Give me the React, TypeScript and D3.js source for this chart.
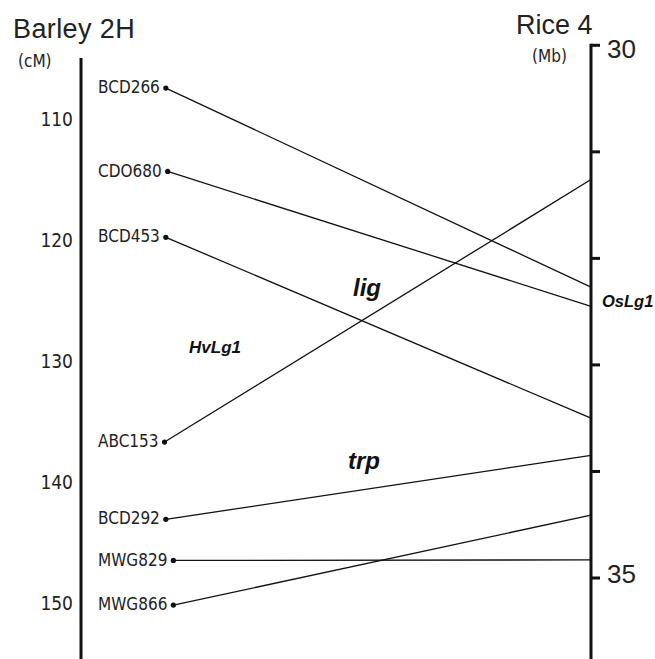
import React, { useEffect, useRef } from "react";
import * as d3 from "d3";

const markers = ["BCD266", "CDO680", "BCD453", "ABC153", "BCD292", "MWG829", "MWG866"];
const barleyCM = [107.4, 114.3, 119.75, 136.7, 143.1, 146.5, 150.2];
const riceMb = [32.27, 32.45, 33.5, 31.26, 33.85, 34.83, 34.41];
const leftTicks = [110, 120, 130, 140, 150];
const rightTicks = [30, 31, 32, 33, 34, 35];
const rightTickLabels = [30, 35];
const leftTitle = "Barley 2H";
const rightTitle = "Rice 4";
const leftUnit = "(cM)";
const rightUnit = "(Mb)";
const geneLabels = [
  { text: "lig", x: 367, y: 296, size: 24 },
  { text: "trp", x: 364, y: 469, size: 24 },
  { text: "HvLg1", x: 215, y: 353, size: 17 },
];
const riceGene = { text: "OsLg1", mb: 32.4 };

const W = 655;
const H = 659;
const LABEL_FONT = "'DejaVu Sans Condensed', 'DejaVu Sans', sans-serif";
const HELV = "'Liberation Sans', Arial, sans-serif";

export default function App() {
  const ref = useRef<SVGSVGElement | null>(null);

  useEffect(() => {
    const svg = d3.select(ref.current);
    svg.selectAll("*").remove();

    const leftX = 81;
    const rightX = 591;
    const yL = d3.scaleLinear().domain([110, 150]).range([119.5, 602.7]);
    const yR = d3.scaleLinear().domain([30, 35]).range([45.3, 578]);

    // titles
    svg.append("text").attr("x", 13).attr("y", 38).attr("font-family", HELV).attr("font-size", 27).attr("letter-spacing", 0.4).attr("fill", "#222").text(leftTitle);
    svg.append("text").attr("x", 516).attr("y", 34).attr("font-family", HELV).attr("font-size", 27).attr("fill", "#222").text(rightTitle);
    svg.append("text").attr("x", 18).attr("y", 67).attr("font-family", LABEL_FONT).attr("font-stretch", "condensed").attr("font-size", 17).attr("fill", "#222").text(leftUnit);
    svg.append("text").attr("x", 532).attr("y", 62).attr("font-family", LABEL_FONT).attr("font-stretch", "condensed").attr("font-size", 17).attr("fill", "#222").text(rightUnit);

    // left axis
    svg.append("line").attr("x1", leftX).attr("x2", leftX).attr("y1", 58).attr("y2", H).attr("stroke", "#111").attr("stroke-width", 3);
    svg.selectAll("text.lt").data(leftTicks).enter().append("text")
      .attr("class", "lt")
      .attr("x", 73).attr("y", (d) => yL(d)).attr("dy", "0.36em")
      .attr("text-anchor", "end")
      .attr("font-family", LABEL_FONT).attr("font-stretch", "condensed")
      .attr("font-size", 19).attr("fill", "#222")
      .text((d) => String(d));

    // right axis
    svg.append("line").attr("x1", rightX).attr("x2", rightX).attr("y1", yR(30) - 1.5).attr("y2", H).attr("stroke", "#111").attr("stroke-width", 3);
    svg.selectAll("line.rt").data(rightTicks).enter().append("line")
      .attr("class", "rt")
      .attr("x1", rightX).attr("x2", rightX + 9)
      .attr("y1", (d) => yR(d)).attr("y2", (d) => yR(d))
      .attr("stroke", "#111").attr("stroke-width", 3);
    svg.selectAll("text.rtl").data(rightTickLabels).enter().append("text")
      .attr("class", "rtl")
      .attr("x", 607).attr("y", (d) => yR(d)).attr("dy", (d) => (d === 30 ? "0.5em" : "0.2em"))
      .attr("font-family", HELV).attr("font-size", 26).attr("fill", "#222")
      .text((d) => String(d));

    // marker labels
    const labelX = 98;
    const labels = svg.selectAll("text.mk").data(markers).enter().append("text")
      .attr("class", "mk")
      .attr("x", labelX).attr("y", (_d, i) => yL(barleyCM[i])).attr("dy", "0.3em")
      .attr("font-family", LABEL_FONT).attr("font-stretch", "condensed")
      .attr("font-size", 17).attr("fill", "#222")
      .text((d) => d);

    const dotX: number[] = [];
    labels.each(function () {
      const len = (this as SVGTextElement).getComputedTextLength();
      dotX.push(labelX + len + 6);
    });

    svg.selectAll("line.conn").data(markers).enter().append("line")
      .attr("class", "conn")
      .attr("x1", (_d, i) => dotX[i]).attr("y1", (_d, i) => yL(barleyCM[i]))
      .attr("x2", rightX).attr("y2", (_d, i) => yR(riceMb[i]))
      .attr("stroke", "#111").attr("stroke-width", 1.3);
    svg.selectAll("circle.dot").data(markers).enter().append("circle")
      .attr("class", "dot")
      .attr("cx", (_d, i) => dotX[i]).attr("cy", (_d, i) => yL(barleyCM[i]))
      .attr("r", 2.6).attr("fill", "#111");

    // gene labels
    svg.selectAll("text.gene").data(geneLabels).enter().append("text")
      .attr("class", "gene")
      .attr("x", (d) => d.x).attr("y", (d) => d.y)
      .attr("text-anchor", "middle")
      .attr("font-family", HELV).attr("font-weight", "bold").attr("font-style", "italic")
      .attr("font-size", (d) => d.size).attr("fill", "#111")
      .text((d) => d.text);
    svg.append("text")
      .attr("x", 602).attr("y", yR(riceGene.mb)).attr("dy", "0.35em")
      .attr("font-family", HELV).attr("font-weight", "bold").attr("font-style", "italic")
      .attr("font-size", 16.5).attr("fill", "#111")
      .text(riceGene.text);
  }, []);

  return (
    <svg
      ref={ref}
      width={W}
      height={H}
      style={{ position: "absolute", left: 0, top: 0, background: "#fff" }}
    />
  );
}
